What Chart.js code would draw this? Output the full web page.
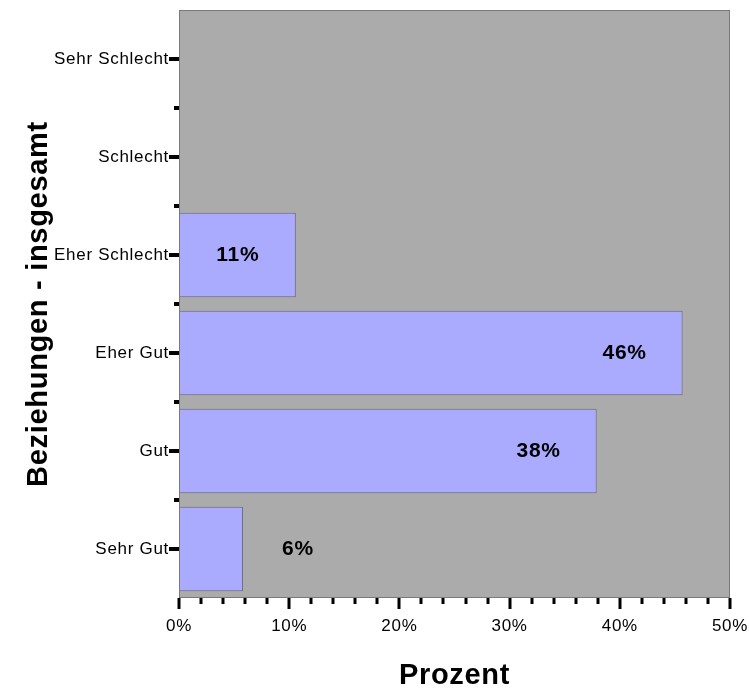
<!DOCTYPE html>
<html>
<head>
<meta charset="utf-8">
<script src="https://cdn.jsdelivr.net/npm/chart.js@4/dist/chart.umd.min.js"></script>
<style>
  html, body { margin: 0; padding: 0; background: #ffffff; }
  #c { display: block; }
</style>
</head>
<body>
<canvas id="c" width="749" height="689"></canvas>
<script>
// Rating categories, listed top to bottom
const categories = ['Sehr Schlecht', 'Schlecht', 'Eher Schlecht', 'Eher Gut', 'Gut', 'Sehr Gut'];
// Share of answers per category, in percent
const shares = [0, 0, 10.6, 45.7, 37.9, 5.8];
// Percent axis
const xMin = 0;
const xMax = 50;
const xStep = 10;
const xMinorStep = 2;

const FONT = "'Liberation Sans', Arial, Helvetica, sans-serif";

// Grey plot background and spaced-out text
const plotBackground = {
  id: 'plotBackground',
  beforeDraw(chart) {
    const { ctx, chartArea: a } = chart;
    ctx.letterSpacing = '0.7px';
    ctx.save();
    ctx.fillStyle = '#ababab';
    ctx.fillRect(a.left, a.top, a.right - a.left, a.bottom - a.top);
    ctx.restore();
  }
};

// Frame around the plot, tick marks and value labels
const frameAndLabels = {
  id: 'frameAndLabels',
  afterDatasetsDraw(chart) {
    const { ctx, chartArea: a } = chart;
    const xs = chart.scales.x, ys = chart.scales.y;
    ctx.save();
    // frame
    ctx.strokeStyle = '#7a7a7a';
    ctx.lineWidth = 1;
    ctx.strokeRect(a.left + 0.5, a.top + 0.5, a.right - a.left - 1, a.bottom - a.top - 1);

    // y ticks: long at categories, short between them
    ctx.fillStyle = '#000000';
    categories.forEach((c, i) => {
      const py = Math.round(ys.getPixelForValue(i));
      ctx.fillRect(a.left - 10, py - 2, 10, 4);
      if (i < categories.length - 1) {
        const pb = Math.round((ys.getPixelForValue(i) + ys.getPixelForValue(i + 1)) / 2);
        ctx.fillRect(a.left - 5, pb - 2, 5, 4);
      }
    });
    // x ticks: major every 10 %, minor every 2 %
    for (let v = xMin; v <= xMax + 1e-9; v += xMinorStep) {
      const px = Math.round(xs.getPixelForValue(v));
      const major = Math.abs(v % xStep) < 1e-9;
      ctx.fillRect(px - 1.5, a.bottom, 3, major ? 11 : 6);
    }

    // value labels
    ctx.font = 'bold 21px ' + FONT;
    ctx.textAlign = 'center';
    ctx.textBaseline = 'middle';
    ctx.fillStyle = '#000000';
    const meta = chart.getDatasetMeta(0);
    meta.data.forEach((bar, i) => {
      const v = shares[i];
      if (!v) return;
      const text = Math.round(v) + '%';
      const half = ctx.measureText(text).width / 2;
      let cx = bar.x - 58;
      if (cx - half < bar.base + 2) cx = bar.x + 55;
      ctx.fillText(text, cx, bar.y);
    });
    ctx.restore();
  }
};

new Chart(document.getElementById('c'), {
  type: 'bar',
  data: {
    labels: categories,
    datasets: [{
      data: shares,
      backgroundColor: '#aaaaff',
      borderColor: '#66667e',
      borderWidth: 1,
      borderSkipped: false,
      barPercentage: 0.86,
      categoryPercentage: 1
    }]
  },
  options: {
    indexAxis: 'y',
    responsive: false,
    animation: false,
    devicePixelRatio: 1,
    layout: { padding: { top: 10, right: 19, left: 0, bottom: 0 } },
    plugins: {
      legend: { display: false },
      tooltip: { enabled: false }
    },
    scales: {
      x: {
        type: 'linear',
        min: xMin,
        max: xMax,
        grid: { display: false, drawTicks: false },
        border: { display: false },
        ticks: {
          stepSize: xStep,
          padding: 18,
          color: '#000000',
          font: { family: FONT, size: 17 },
          maxRotation: 0,
          callback: v => v + '%'
        },
        title: {
          display: true,
          text: 'Prozent',
          color: '#000000',
          font: { family: FONT, size: 29, weight: 'bold', lineHeight: 0.8 },
          padding: { top: 0, bottom: 1 }
        },
        afterFit(scale) {
          scale.height = 91;
          scale.paddingLeft = 0;
          scale.paddingRight = 0;
        }
      },
      y: {
        type: 'category',
        grid: { display: false, drawTicks: false },
        border: { display: false },
        ticks: {
          padding: 10,
          color: '#000000',
          font: { family: FONT, size: 17 }
        },
        title: {
          display: true,
          text: 'Beziehungen - insgesamt',
          color: '#000000',
          font: { family: FONT, size: 29, weight: 'bold', lineHeight: 0.8 },
          padding: { top: 27, bottom: 0 }
        },
        afterFit(scale) {
          scale.width = 179;
          scale.paddingTop = 0;
          scale.paddingBottom = 0;
        }
      }
    }
  },
  plugins: [plotBackground, frameAndLabels]
});
</script>
</body>
</html>
